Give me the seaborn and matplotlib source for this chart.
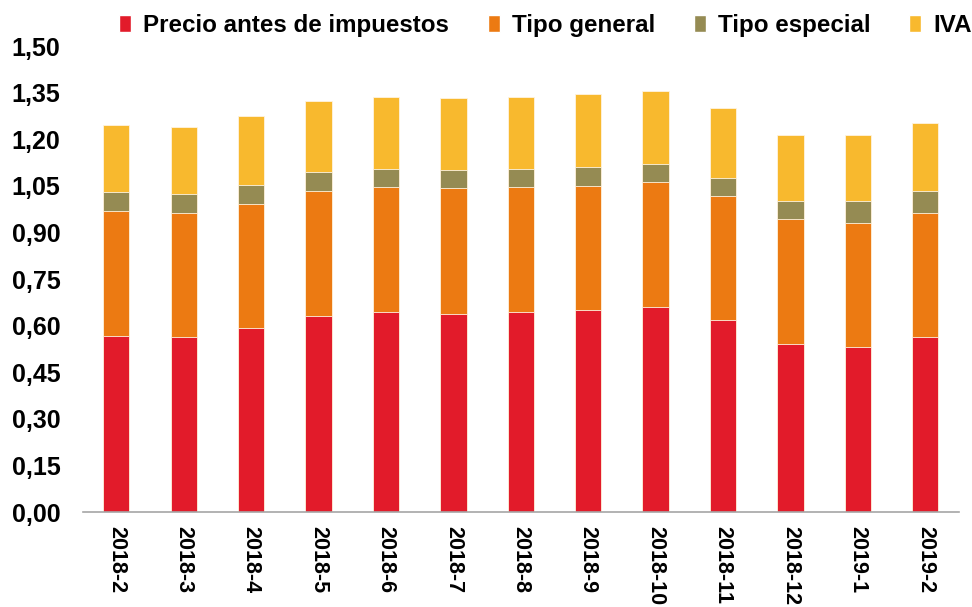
"""
Precio de la gasolina: desglose por componentes (2018-2 a 2019-2)
"""

import numpy as np
import pandas as pd
import matplotlib
matplotlib.use("Agg")
import matplotlib.pyplot as plt
from matplotlib.patches import Patch
from matplotlib.ticker import FixedLocator, FuncFormatter
import seaborn as sns

sns.set_theme(style="white")
plt.rcParams["font.family"] = ["Liberation Sans", "DejaVu Sans"]
plt.rcParams["font.weight"] = "bold"
plt.rcParams["text.color"] = "black"
plt.rcParams["xtick.color"] = "black"
plt.rcParams["ytick.color"] = "black"

# Datos
meses = ["2018-2", "2018-3", "2018-4", "2018-5", "2018-6", "2018-7", "2018-8",
         "2018-9", "2018-10", "2018-11", "2018-12", "2019-1", "2019-2"]
precio = [0.567, 0.564, 0.592, 0.632, 0.643, 0.639, 0.643,
          0.650, 0.661, 0.617, 0.542, 0.531, 0.562]
tipo_general = [0.402, 0.398, 0.401, 0.402, 0.402, 0.403, 0.402,
                0.401, 0.400, 0.399, 0.400, 0.401, 0.400]
tipo_especial = [0.061, 0.061, 0.061, 0.061, 0.060, 0.060, 0.060,
                 0.060, 0.060, 0.061, 0.060, 0.070, 0.071]
iva = [0.215, 0.217, 0.221, 0.228, 0.231, 0.230, 0.231,
       0.234, 0.235, 0.224, 0.211, 0.211, 0.218]

series = ["Precio antes de impuestos", "Tipo general", "Tipo especial", "IVA"]
colores = ["#E21B2A", "#EC7A12", "#958B53", "#F8B92E"]

df = pd.DataFrame({"mes": meses, series[0]: precio, series[1]: tipo_general,
                   series[2]: tipo_especial, series[3]: iva})
acum = df[series].cumsum(axis=1)

fig = plt.figure(figsize=(9.72, 6.07), dpi=100)
ax = fig.add_axes([0.085, 0.1565, 0.9016, 0.7675])

# apilado: dibujar de arriba hacia abajo con sumas acumuladas
for s, c in reversed(list(zip(series, colores))):
    sns.barplot(x=df["mes"], y=acum[s], color=c, width=0.39, ax=ax,
                edgecolor="#FFF4E0", linewidth=0.6, saturation=1)

ax.set_ylim(0, 1.5)
ax.set_xlim(-0.5, len(meses) - 0.5)
ax.yaxis.set_major_locator(FixedLocator(np.arange(0, 1.51, 0.15)))
ax.yaxis.set_major_formatter(FuncFormatter(lambda v, p: f"{v:.2f}".replace(".", ",")))
ax.set_xlabel("")
ax.set_ylabel("")

for sp in ["top", "right", "left"]:
    ax.spines[sp].set_visible(False)
ax.spines["bottom"].set_color("#A6A6A6")
ax.spines["bottom"].set_linewidth(1.2)

ax.tick_params(axis="y", length=0, pad=16, labelsize=18)
ax.set_xticks(range(len(meses)))
ax.set_xticklabels(meses, rotation=270, fontsize=15.5, fontweight="bold")
ax.tick_params(axis="x", which="major", length=0, pad=10)
ax.set_xticks(np.arange(-0.5, len(meses), 1), minor=True)
ax.tick_params(axis="x", which="minor", length=5, color="#A6A6A6", width=1.2)
for lab in ax.get_yticklabels():
    lab.set_fontweight("bold")

handles = [Patch(facecolor=c, label=s) for s, c in zip(series, colores)]
fig.legend(handles=handles, loc="upper center", bbox_to_anchor=(0.561, 1.013),
           ncol=4, frameon=False, fontsize=17.4, handlelength=0.5,
           handleheight=0.7, handletextpad=0.5, columnspacing=1.6)

plt.savefig("out.png", dpi=100)
